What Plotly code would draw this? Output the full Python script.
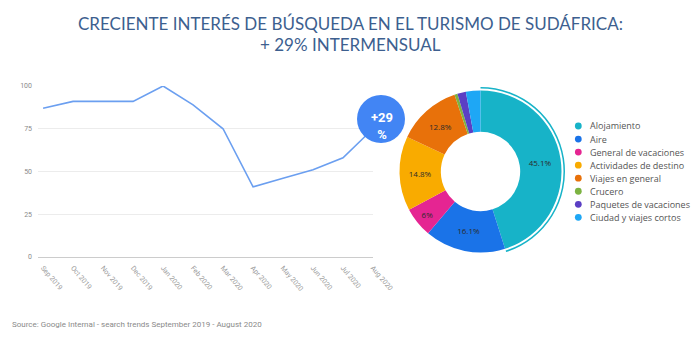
import plotly.graph_objects as go

W, H = 700, 343

# Monthly search interest index (Google Trends style, 0-100)
months = ["Sep 2019", "Oct 2019", "Nov 2019", "Dec 2019", "Jan 2020", "Feb 2020",
          "Mar 2020", "Apr 2020", "May 2020", "Jun 2020", "Jul 2020", "Aug 2020"]
interest = [87, 91, 91, 91, 100, 89, 75, 41, 46, 51, 58, 75]

# Share of searches by travel category (%)
categories = ["Alojamiento", "Aire", "General de vacaciones", "Actividades de destino",
              "Viajes en general", "Crucero", "Paquetes de vacaciones", "Ciudad y viajes cortos"]
shares = [45.1, 16.1, 6, 14.8, 12.8, 0.6, 1.7, 2.9]
colors = ["#17b3c8", "#1a73e8", "#e52592", "#f9ab00", "#e8710a", "#7cb342", "#5b3fc4", "#1ea7f5"]

y_ticks = [0, 25, 50, 75, 100]

mom = round((interest[-1] / interest[-2] - 1) * 100)


def px(x):
    return x / W


def py(y):
    return 1 - y / H


fig = go.Figure()

# Trend line
fig.add_trace(go.Scatter(
    x=months, y=interest, mode="lines",
    line=dict(color="#6b9ff0", width=1.6),
    hoverinfo="x+y", showlegend=False,
    xaxis="x", yaxis="y",
))

# Donut of category shares
cx, cy, r = 480.5, 171.5, 81
pie_domain = dict(x=[px(cx - r), px(cx + r)], y=[py(cy + r), py(cy - r)])
fig.add_trace(go.Pie(
    labels=categories, values=shares, sort=False, direction="clockwise", rotation=0,
    hole=0.49, domain=pie_domain,
    marker=dict(colors=colors, line=dict(width=0)),
    text=[f"{v:g}%" if v >= 5 else "" for v in shares],
    textinfo="text", textposition="inside", insidetextorientation="horizontal",
    textfont=dict(family="Open Sans", size=8, color="#2b2b2b"),
    hoverinfo="label+percent", showlegend=False,
))

# Thin highlight ring around the largest slice
ring_r = 84.5
ring_domain = dict(x=[px(cx - ring_r), px(cx + ring_r)], y=[py(cy + ring_r), py(cy - ring_r)])
ring_colors = [colors[0]] + ["rgba(0,0,0,0)"] * (len(shares) - 1)
fig.add_trace(go.Pie(
    labels=categories, values=shares, sort=False, direction="clockwise", rotation=0,
    hole=0.982, domain=ring_domain,
    marker=dict(colors=ring_colors, line=dict(width=0)),
    textinfo="none", hoverinfo="skip", showlegend=False,
))

shapes = []
annotations = []

# Growth badge
bx, by, br = 381, 119, 24
shapes.append(dict(type="circle", xref="paper", yref="paper",
                   x0=px(bx - br), x1=px(bx + br), y0=py(by + br), y1=py(by - br),
                   fillcolor="#4285f4", line=dict(width=0), layer="above"))
annotations.append(dict(text=f"<b>+{mom}<br>%</b>", xref="paper", yref="paper",
                        x=px(bx + 1), y=py(126), xanchor="center", yanchor="middle",
                        showarrow=False, align="center",
                        font=dict(family="Roboto", size=13, color="white")))

# Legend with round markers
leg_y0, leg_dy = 126, 13.05
for i, (name, c) in enumerate(zip(categories, colors)):
    yy = leg_y0 + i * leg_dy
    shapes.append(dict(type="circle", xref="paper", yref="paper",
                       x0=px(578.3 - 3.4), x1=px(578.3 + 3.4),
                       y0=py(yy + 3.4), y1=py(yy - 3.4),
                       fillcolor=c, line=dict(width=0)))
    annotations.append(dict(text=name, xref="paper", yref="paper",
                            x=px(587.5), y=py(yy), xanchor="left", yanchor="middle",
                            showarrow=False,
                            font=dict(family="Open Sans", size=9, color="#555555")))

# Title
title_font = dict(family="Lato", size=17, color="#3d5f8f")
annotations.append(dict(text="CRECIENTE INTERÉS DE BÚSQUEDA EN EL TURISMO DE SUDÁFRICA:",
                        xref="paper", yref="paper", x=0.5, y=py(23),
                        xanchor="center", yanchor="middle", showarrow=False, font=title_font))
annotations.append(dict(text=f"+ {mom}% INTERMENSUAL",
                        xref="paper", yref="paper", x=0.5, y=py(44),
                        xanchor="center", yanchor="middle", showarrow=False, font=title_font))

# Source note
annotations.append(dict(text="Source: Google Internal - search trends September 2019 - August 2020",
                        xref="paper", yref="paper", x=px(10), y=py(324),
                        xanchor="left", yanchor="middle", showarrow=False,
                        font=dict(family="Roboto", size=8, color="#8a8a8a")))

fig.update_layout(
    width=W, height=H,
    margin=dict(l=0, r=0, t=0, b=0, pad=0, autoexpand=False),
    showlegend=False,
    paper_bgcolor="white", plot_bgcolor="white",
    xaxis=dict(
        domain=[px(38), px(373)], type="category", range=[-0.17, 11],
        automargin=False,
        showgrid=False, zeroline=False,
        showline=True, linecolor="#cccccc", linewidth=1,
        ticks="", tickangle=50, ticklabelstandoff=3,
        tickfont=dict(family="Roboto", size=7, color="#9a9a9a"),
        fixedrange=True,
    ),
    yaxis=dict(
        domain=[py(257), py(86)], range=[0, 100],
        automargin=False,
        tickvals=y_ticks, showgrid=True, gridcolor="#ececec", gridwidth=1,
        zeroline=False, showline=False, ticks="", ticklabelstandoff=5,
        tickfont=dict(family="Roboto", size=7, color="#8a8a8a"),
        fixedrange=True,
    ),
    shapes=shapes,
    annotations=annotations,
)

fig.write_html("out.html")
